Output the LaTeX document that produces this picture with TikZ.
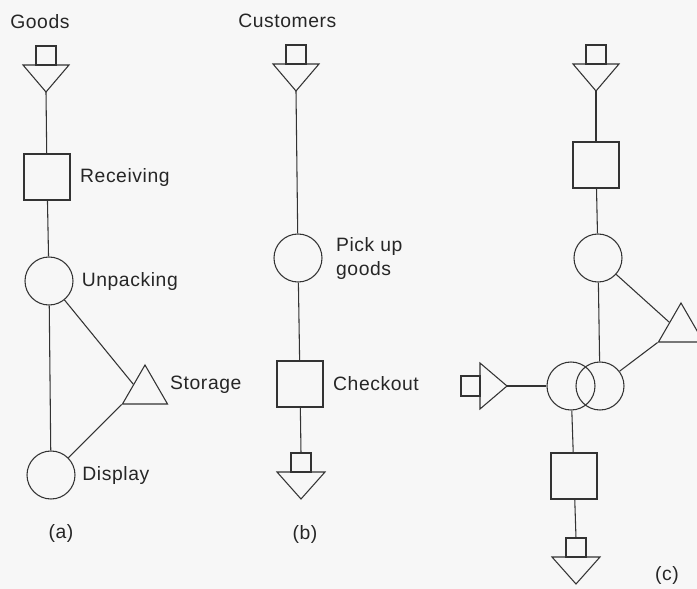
\documentclass[tikz,border=0pt]{standalone}
\usepackage{fontspec}
\setmainfont{Liberation Sans}[LetterSpace=3]
\usetikzlibrary{positioning}
\usetikzlibrary{shapes.geometric}

\tikzset{
  flow/.style={line width=0.8pt, draw=black!80},
  opbox/.style={flow, rectangle, minimum size=34.5pt, inner sep=0pt},
  opcirc/.style={flow, circle, minimum size=36pt, inner sep=0pt},
  store/.style={flow, regular polygon, regular polygon sides=3, minimum size=39pt, inner sep=0pt},
  lbl/.style={inner sep=0pt, font=\fontsize{14.5}{18}\selectfont, align=left, text=black!85},
  pics/source/.style={code={
    \draw[flow] (-23,-27) -- (23,-27) -- (0,0) -- cycle;
    \draw[flow] (-10,-27) rectangle (10,-46);
    \coordinate (-tip) at (0,0);
  }},
  pics/sink/.style={code={
    \draw[flow] (-10,0) rectangle (10,19);
    \draw[flow] (-24,19) -- (24,19) -- (0,46) -- cycle;
    \coordinate (-top) at (0,0);
  }},
}

\begin{document}
\begin{tikzpicture}[x=0.75pt, y=-0.75pt]
      \useasboundingbox (0,0) rectangle (697,589);
      \fill[black!3] (0,0) rectangle (697,589);

      % (a) flow of goods
      \node[lbl, anchor=west] (goods) at (10,22) {Goods};
      \pic (gin) at (46,92) {source};
      \node[opbox] (rcv) at (47,177) {};
      \node[lbl, right=7pt of rcv] (rcvl) {Receiving};
      \node[opcirc] (unpk) at (49,281) {};
      \node[lbl, right=6pt of unpk] (unpkl) {Unpacking};
      \node[store] (stor) at (145,391) {};
      \node[lbl, right=7pt of stor, yshift=5pt] (storl) {Storage};
      \node[opcirc] (disp) at (51,475) {};
      \node[lbl, right=5pt of disp] (displ) {Display};
      \node[lbl] (capa) at (61,533) {(a)};

      \draw[flow] (gin-tip) -- (rcv);
      \draw[flow] (rcv) -- (unpk);
      \draw[flow] (unpk) -- (disp);
      \draw[flow] (unpk) -- (stor.side 1);
      \draw[flow] (disp) -- (stor.corner 2);

      % (b) flow of customers
      \node[lbl, anchor=west] (cust) at (238,21) {Customers};
      \pic (cin) at (296,91) {source};
      \node[opcirc] (pick) at (298,258) {};
      \node[lbl, right=10pt of pick] (pickl) {Pick up\\goods};
      \node[opbox] (chk) at (300,384) {};
      \node[lbl, right=7pt of chk] (chkl) {Checkout};
      \pic (cout) at (301,453) {sink};
      \node[lbl] (capb) at (305,534) {(b)};

      \draw[flow] (cin-tip) -- (pick);
      \draw[flow] (pick) -- (chk);
      \draw[flow] (chk) -- (cout-top);

      % (c) combined
      \pic (xin) at (596,91) {source};
      \node[opbox] (xbox) at (596,165) {};
      \node[opcirc] (xcirc) at (598,258) {};
      \node[store] (xstor) at (681,329) {};
      \node[opcirc] (mrgl) at (571,386) {};
      \node[opcirc] (mrgr) at (600,386) {};
      \pic[rotate=90] (xside) at (507,386) {source};
      \node[opbox] (xbox2) at (574,476) {};
      \pic (xout) at (576,538) {sink};
      \node[lbl] (capc) at (667,575) {(c)};

      \draw[flow] (xin-tip) -- (xbox);
      \draw[flow] (xbox) -- (xcirc);
      \draw[flow] (xcirc) -- (mrgr);
      \draw[flow] (xcirc) -- (xstor.side 1);
      \draw[flow] (mrgr) -- (xstor.corner 2);
      \draw[flow] (xside-tip) -- (mrgl);
      \draw[flow] (mrgl) -- (xbox2);
      \draw[flow] (xbox2) -- (xout-top);
    \end{tikzpicture}
\end{document}
